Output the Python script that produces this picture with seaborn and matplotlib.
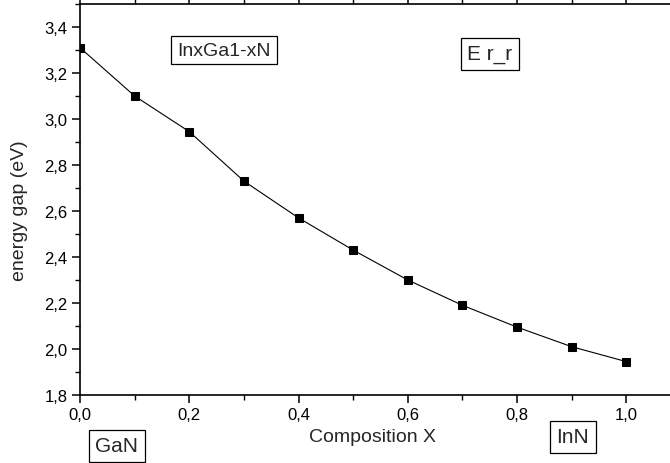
import matplotlib
matplotlib.use("Agg")
import matplotlib.pyplot as plt
from matplotlib.ticker import MultipleLocator, FuncFormatter
import seaborn as sns
import pandas as pd

# Band gap of InxGa1-xN versus indium composition
composition = [0.0, 0.1, 0.2, 0.3, 0.4, 0.5, 0.6, 0.7, 0.8, 0.9, 1.0]
energy_gap = [3.31, 3.10, 2.945, 2.73, 2.57, 2.43, 2.30, 2.19, 2.095, 2.01, 1.945]

df = pd.DataFrame({"x": composition, "Eg": energy_gap})

sns.set_style("ticks")
plt.rcParams["font.family"] = ["Liberation Sans", "DejaVu Sans"]

W, H = 670, 464
fig = plt.figure(figsize=(W / 100, H / 100), dpi=100)
ax = fig.add_axes([80 / W, 1 - 396 / H, (681 - 80) / W, (396 - 5) / H])

sns.lineplot(data=df, x="x", y="Eg", ax=ax, color="black", linewidth=0.8,
             marker="s", markersize=6, markeredgecolor="black",
             markerfacecolor="black")

ax.set_xlim(0, 1.1)
ax.set_ylim(1.8, 3.5)

ax.xaxis.set_major_locator(MultipleLocator(0.2))
ax.xaxis.set_minor_locator(MultipleLocator(0.1))
ax.yaxis.set_major_locator(MultipleLocator(0.2))
ax.yaxis.set_minor_locator(MultipleLocator(0.1))

comma = FuncFormatter(lambda v, p: f"{v:.1f}".replace(".", ","))
ax.xaxis.set_major_formatter(comma)
ax.yaxis.set_major_formatter(comma)

for side in ["top", "right", "left", "bottom"]:
    ax.spines[side].set_visible(True)
    ax.spines[side].set_linewidth(1.2)
    ax.spines[side].set_color("black")

ax.tick_params(axis="both", which="major", direction="out", length=6,
               width=1.1, labelsize=12, colors="black", pad=3)
ax.tick_params(axis="both", which="minor", direction="out", length=3.5,
               width=1.0, colors="black")
ax.tick_params(axis="x", which="both", top=True)
ax.tick_params(axis="x", which="both", labeltop=False)

ax.set_xlabel("Composition X", fontsize=14)
ax.set_ylabel("energy gap (eV)", fontsize=14)
ax.xaxis.set_label_coords((373 - 80) / 601, (396 - 429) / 391)
ax.yaxis.set_label_coords((28 - 80) / 601, (396 - 211) / 391)

box = dict(boxstyle="square,pad=0.3", fc="white", ec="black", lw=0.9)


def label(px, py, s, size):
    fig.text(px / W, 1 - py / H, s, ha="center", va="center",
             fontsize=size, bbox=box)


label(224, 51, "InxGa1-xN", 14)
label(490, 55, "E r_r", 15)
label(117, 447, "GaN", 15)
label(573, 438, "InN", 15)

fig.savefig("out.png", dpi=100)
